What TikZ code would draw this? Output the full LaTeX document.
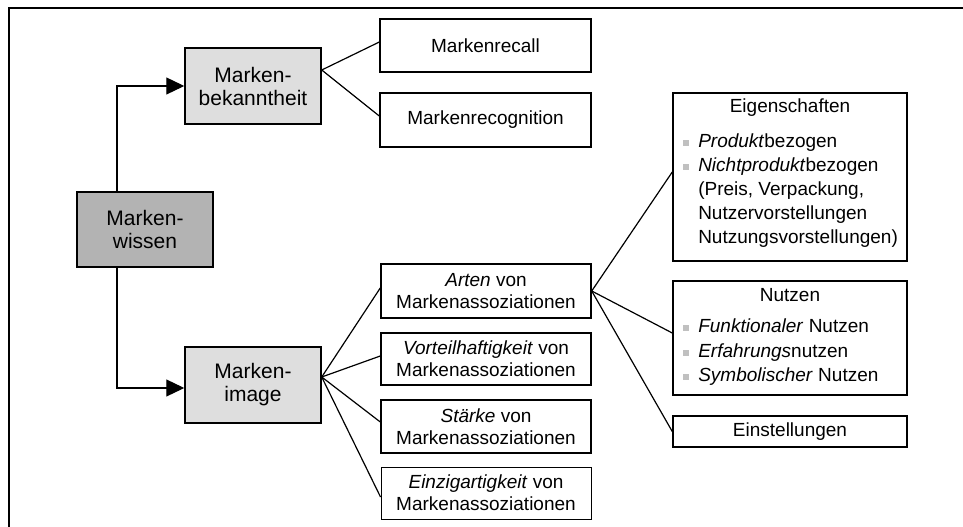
\documentclass[tikz,border=0pt]{standalone}
\usepackage{fontspec}
\setmainfont{Liberation Sans}
\usetikzlibrary{arrows.meta}
\definecolor{darkbox}{HTML}{B3B3B3}
\definecolor{lightbox}{HTML}{DEDEDE}
\definecolor{bulletgray}{HTML}{C0C0C0}
\tikzset{
  box/.style={draw=black, line width=1.1pt, inner sep=0pt, align=center,
    font=\fontsize{14.25}{16.3}\selectfont},
  bigbox/.style={box, font=\fontsize{15.75}{17.25}\selectfont},
  conn/.style={line width=0.9pt},
  arr/.style={line width=0.9pt, -{Triangle[length=13.5pt,width=12.75pt]}},
  frameline/.style={line width=2pt},
  item/.style={anchor=west, inner sep=0pt, text height=10.2pt, text depth=3pt,
    font=\fontsize{14.25}{16}\selectfont},
  ttl/.style={inner sep=0pt, text height=10.2pt, text depth=3pt,
    font=\fontsize{14.25}{16}\selectfont},
  bul/.style={fill=bulletgray, minimum size=3.9pt, inner sep=0pt},
}
\begin{document}
\begin{tikzpicture}[x=0.75pt,y=-0.75pt]
\useasboundingbox (0,0) rectangle (963,527);
\fill[white] (0,0) rectangle (963,527);
% frame
\draw[frameline] (963,8) -- (9,8) -- (9,527);

% left column
\node[bigbox, fill=darkbox, minimum width=102pt, minimum height=56.25pt] (mw) at (145,229.5) {Marken-\\wissen};
\node[bigbox, fill=lightbox, minimum width=102pt, minimum height=57pt] (mb) at (253,86) {Marken-\\bekanntheit};
\node[bigbox, fill=lightbox, minimum width=102pt, minimum height=57pt] (mi) at (253,385) {Marken-\\image};

% middle column
\node[box, minimum width=158.25pt, minimum height=39.75pt] (mr) at (485.5,45.5) {Markenrecall};
\node[box, minimum width=158.25pt, minimum height=40.5pt] (mrg) at (485.5,120) {Markenrecognition};
\node[box, minimum width=157.5pt, minimum height=40.5pt] (arten) at (486,291) {\textit{Arten} von\\Markenassoziationen};
\node[box, minimum width=157.5pt, minimum height=39pt] (vort) at (486,359) {\textit{Vorteilhaftigkeit} von\\Markenassoziationen};
\node[box, minimum width=157.5pt, minimum height=39.75pt] (staerke) at (486,426.5) {\textit{Stärke} von\\Markenassoziationen};
\node[box, line width=0.7pt, minimum width=157.5pt, minimum height=39pt] (einz) at (486,493) {\textit{Einzigartigkeit} von\\Markenassoziationen};

% right column
\node[box, minimum width=175.5pt, minimum height=126pt] (eig) at (790,177) {};
\node[box, minimum width=175.5pt, minimum height=85.5pt] (nutzen) at (790,338) {};
\node[box, minimum width=175.5pt, minimum height=23.25pt] (einst) at (790,431.5) {Einstellungen};

% Eigenschaften content
\node[ttl] (eigT) at (790,108) {Eigenschaften};
\node[bul] (b1) at (686,143) {};
\node[item] (e1) at (698,143) {\textit{Produkt}bezogen};
\node[bul] (b2) at (686,167) {};
\node[item] (e2) at (698,167) {\textit{Nichtprodukt}bezogen};
\node[item] (e3) at (698,191) {(Preis, Verpackung,};
\node[item] (e4) at (698,215) {Nutzervorstellungen};
\node[item] (e5) at (698,239) {Nutzungsvorstellungen)};

% Nutzen content
\node[ttl] (nT) at (790,297) {Nutzen};
\node[bul] (b3) at (686,328) {};
\node[item] (n1) at (698,328) {\textit{Funktionaler} Nutzen};
\node[bul] (b4) at (686,353) {};
\node[item] (n2) at (698,353) {\textit{Erfahrungs}nutzen};
\node[bul] (b5) at (686,377) {};
\node[item] (n3) at (698,377) {\textit{Symbolischer} Nutzen};

% arrows
\draw[arr] ([xshift=-21pt]mw.north) |- (mb.west);
\draw[arr] ([xshift=-21pt]mw.south) |- ([yshift=-2.25pt]mi.west);

% connectors
\draw[conn] ([yshift=12pt]mb.east) -- ([yshift=2.6pt]mr.west);
\draw[conn] ([yshift=12pt]mb.east) -- ([yshift=3pt]mrg.west);

\draw[conn] ([yshift=6pt]mi.east) -- ([yshift=2.25pt]arten.west);
\draw[conn] ([yshift=6pt]mi.east) -- ([yshift=2.25pt]vort.west);
\draw[conn] ([yshift=6pt]mi.east) -- ([yshift=3.4pt]staerke.west);
\draw[conn] ([yshift=6pt]mi.east) -- ([yshift=-3pt]einz.west);

\draw[conn] (arten.east) -- ([yshift=3.75pt]eig.west);
\draw[conn] (arten.east) -- ([yshift=3.75pt]nutzen.west);
\draw[conn] (arten.east) -- (einst.west);
\end{tikzpicture}
\end{document}
